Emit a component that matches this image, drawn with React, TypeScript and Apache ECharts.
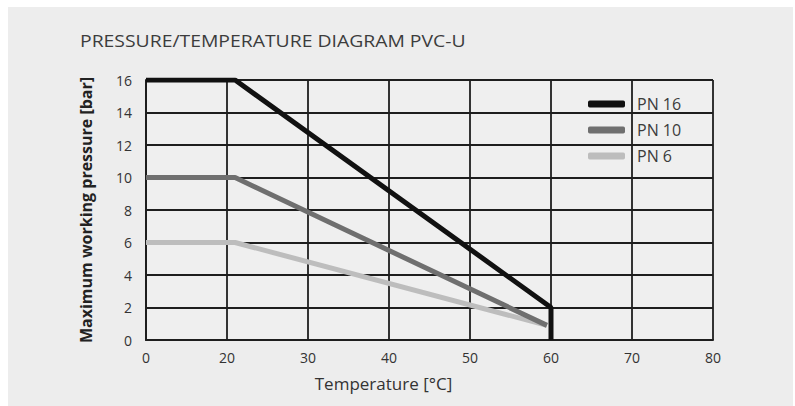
import React, { useEffect, useRef } from "react";
import * as echarts from "echarts";

const titleText = "PRESSURE/TEMPERATURE DIAGRAM PVC-U";
const xTickLabels = ["0", "20", "30", "40", "50", "60", "70", "80"];
const seriesNames = ["PN 16", "PN 10", "PN 6"];
const pn16Temp = [0, 21, 60, 60];
const pn16Pressure = [16, 16, 2, 0];
const pn10Temp = [0, 21, 59.5];
const pn10Pressure = [10, 10, 0.9];
const pn6Temp = [0, 21, 59.5];
const pn6Pressure = [6, 6, 0.9];

// The original axis draws 0..20 in the same width as a 10-degree step.
const toAxis = (t: number) => (t <= 20 ? 10 + t / 2 : t);
const axisLabel = (v: number) => {
  const idx = Math.round((v - 10) / 10);
  return xTickLabels[idx] ?? "";
};
const pairs = (ts: number[], ps: number[]) => ts.map((t, i) => [toAxis(t), ps[i]]);

export default function App() {
  const ref = useRef<HTMLDivElement>(null);
  useEffect(() => {
    if (!ref.current) return;
    const chart = echarts.init(ref.current, null, { renderer: "svg" });
    const font = "'Open Sans', sans-serif";
    const gridColor = "#1e1e1e";
    chart.setOption({
      animation: false,
      backgroundColor: "#ffffff",
      textStyle: { fontFamily: font },
      graphic: [
        {
          type: "rect",
          z: -10,
          silent: true,
          shape: { x: 8, y: 7, width: 785, height: 399 },
          style: { fill: "#ededed" },
        },
        {
          type: "text",
          x: 80,
          y: 41,
          scaleX: 1.25,
          silent: true,
          style: {
            text: titleText,
            fontFamily: font,
            fontSize: 15.5,
            fill: "#3c3c3c",
            align: "left",
            verticalAlign: "middle",
          },
        },
      ],
      legend: {
        orient: "vertical",
        left: 583,
        top: 91,
        itemWidth: 37,
        itemHeight: 7,
        itemGap: 10,
        icon: "roundRect",
        data: seriesNames,
        textStyle: { fontFamily: font, fontSize: 16, color: "#3c3c3c", padding: [0, 0, 0, 7] },
      },
      grid: {
        left: 146,
        right: 82,
        top: 80,
        bottom: 66,
        show: true,
        borderWidth: 0,
        backgroundColor: "#efefef",
      },
      xAxis: {
        type: "value",
        min: 10,
        max: 80,
        interval: 10,
        name: "Temperature [°C]",
        nameLocation: "middle",
        nameGap: 35,
        nameTextStyle: { fontFamily: font, fontSize: 17, color: "#333", padding: [0, 92, 0, 0] },
        axisLine: { show: true, lineStyle: { color: gridColor, width: 2 } },
        axisTick: { show: false },
        axisLabel: { formatter: axisLabel, fontFamily: font, fontSize: 14, color: "#333", margin: 10 },
        splitLine: { show: true, lineStyle: { color: gridColor, width: 1.8 } },
      },
      yAxis: {
        type: "value",
        min: 0,
        max: 16,
        interval: 2,
        name: "Maximum working pressure [bar]",
        nameLocation: "middle",
        nameGap: 52,
        nameRotate: 90,
        nameTextStyle: { fontFamily: font, fontSize: 16, fontWeight: "bold", color: "#222" },
        axisLine: { show: true, lineStyle: { color: gridColor, width: 2 } },
        axisTick: { show: false },
        axisLabel: { fontFamily: font, fontSize: 14, color: "#333", margin: 14 },
        splitLine: { show: true, lineStyle: { color: gridColor, width: 1.8 } },
      },
      series: [
        {
          name: seriesNames[2],
          type: "line",
          data: pairs(pn6Temp, pn6Pressure),
          symbol: "none",
          lineStyle: { color: "#bdbdbd", width: 5 },
          itemStyle: { color: "#bdbdbd" },
          z: 3,
        },
        {
          name: seriesNames[1],
          type: "line",
          data: pairs(pn10Temp, pn10Pressure),
          symbol: "none",
          lineStyle: { color: "#6f6f6f", width: 5 },
          itemStyle: { color: "#6f6f6f" },
          z: 4,
        },
        {
          name: seriesNames[0],
          type: "line",
          data: pairs(pn16Temp, pn16Pressure),
          symbol: "none",
          lineStyle: { color: "#111111", width: 5 },
          itemStyle: { color: "#111111" },
          z: 5,
        },
      ],
    });
    return () => chart.dispose();
  }, []);
  return (
    <div
      ref={ref}
      style={{ position: "fixed", left: 0, top: 0, width: 795, height: 406 }}
    />
  );
}
